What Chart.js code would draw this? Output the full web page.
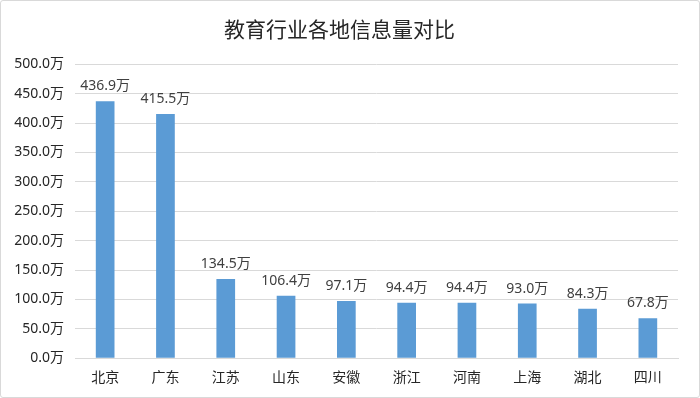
<!DOCTYPE html>
<html lang="zh"><head><meta charset="utf-8"><title>教育行业各地信息量对比</title>
<script src="https://cdn.jsdelivr.net/npm/chart.js@4/dist/chart.umd.min.js"></script>
<style>
  html, body { margin: 0; padding: 0; background: #fff; }
  .frame {
    width: 700px; height: 398px; box-sizing: border-box;
    border: 1px solid #d9d9d9; border-radius: 3px; background: #fff;
  }
  canvas { display: block; }
</style></head>
<body>
<div class="frame"><canvas id="c" width="698" height="396"></canvas></div>
<script>
const TITLE = '教育行业各地信息量对比';
const REGIONS = ['北京', '广东', '江苏', '山东', '安徽', '浙江', '河南', '上海', '湖北', '四川'];
const VOLUME = [436.9, 415.5, 134.5, 106.4, 97.1, 94.4, 94.4, 93.0, 84.3, 67.8]; // 万
const Y_MAX = 500, Y_STEP = 50;

const CJK = '"Noto Sans CJK SC", "Microsoft YaHei", sans-serif';

// Values sit above each bar, in the same unit as the axis.
const barLabels = {
  id: 'barLabels',
  afterDatasetsDraw(chart) {
    const { ctx } = chart;
    const meta = chart.getDatasetMeta(0);
    ctx.save();
    ctx.fillStyle = '#404040';
    ctx.font = '14px "Noto Sans", ' + CJK;
    ctx.textAlign = 'center';
    ctx.textBaseline = 'bottom';
    meta.data.forEach((bar, i) => {
      ctx.fillText(VOLUME[i].toFixed(1) + '万', bar.x, bar.y - 8);
    });
    ctx.restore();
  },
};

new Chart(document.getElementById('c'), {
  type: 'bar',
  data: {
    labels: REGIONS,
    datasets: [{
      data: VOLUME,
      backgroundColor: '#5b9bd5',
      borderWidth: 0,
      barPercentage: 0.31,
      categoryPercentage: 1,
    }],
  },
  options: {
    responsive: false, maintainAspectRatio: false, animation: false,
    layout: { padding: { left: 0, right: 21, top: 0, bottom: 10 } },
    plugins: {
      legend: { display: false },
      tooltip: { enabled: false },
      title: {
        display: true, text: TITLE, color: '#262626',
        font: { size: 21, family: CJK, weight: 'normal' },
        padding: { top: 15, bottom: 23 },
      },
    },
    scales: {
      x: {
        grid: { display: false },
        border: { display: true, color: '#d9d9d9' },
        ticks: { color: '#262626', font: { size: 14, family: CJK }, padding: 2 },
      },
      y: {
        min: 0, max: Y_MAX,
        afterFit: s => { s.width = 74; },
        grid: { color: '#d9d9d9', drawTicks: false },
        border: { display: false },
        ticks: {
          stepSize: Y_STEP, color: '#262626', padding: 11,
          font: { size: 14, family: '"Noto Sans", ' + CJK },
          callback: v => v.toFixed(1) + '万',
        },
      },
    },
  },
  plugins: [barLabels],
});
</script>
</body></html>
